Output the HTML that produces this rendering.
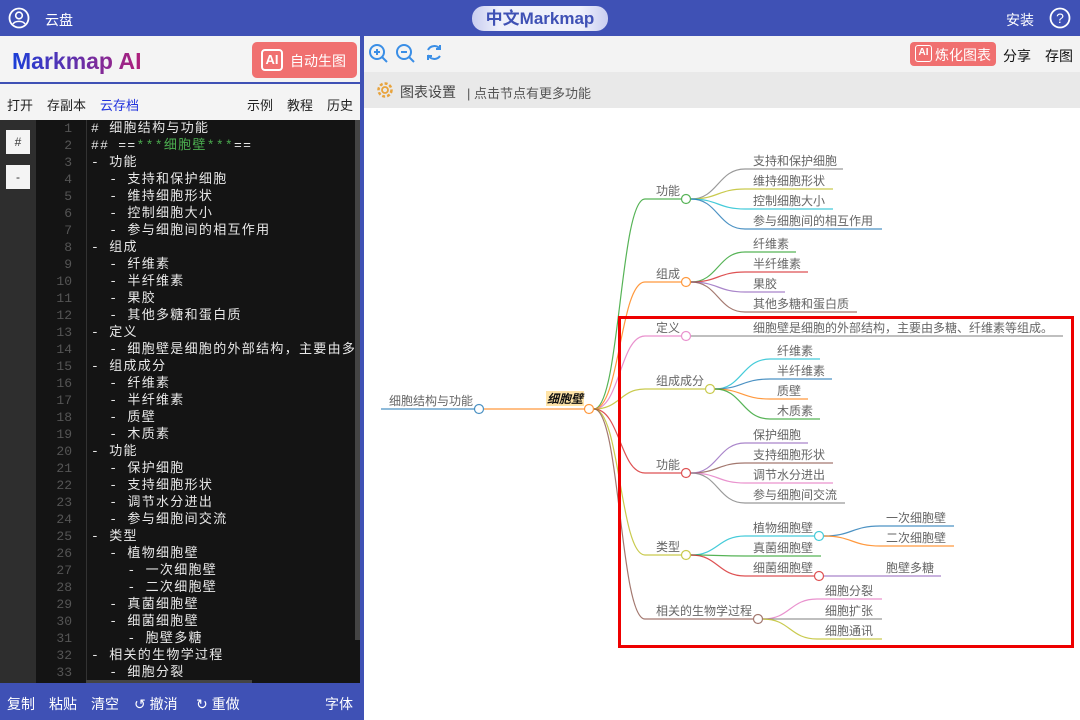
<!DOCTYPE html>
<html><head><meta charset="utf-8"><style>
*{margin:0;padding:0;box-sizing:border-box}
body{width:1080px;height:720px;overflow:hidden;font-family:"Liberation Sans","Noto Sans CJK SC",sans-serif;background:#fff;position:relative}
.abs{position:absolute}
.top{left:0;top:0;width:1080px;height:36px;background:#3f51b5;color:#fff;font-size:14px}
.pill{left:472px;top:6px;width:136px;height:25px;border-radius:12px;background:linear-gradient(90deg,#c8cdf0,#eef0fb 20%,#eef0fb 80%,#c8cdf0);color:#3f51b5;font-weight:bold;font-size:17px;text-align:center;line-height:25px}
.left{left:0;top:36px;width:360px;height:684px;background:#f4f4f4}
.blue{background:#3f51b5}
.menu span{position:absolute;top:95px;font-size:13px;color:#222}
.code{font-family:"Liberation Mono","Noto Sans CJK SC",monospace;font-size:13px;color:#e8e8e8;white-space:pre;line-height:17px;letter-spacing:1.3px}
.ln{font-family:"Liberation Mono",monospace;font-size:13px;color:#555;line-height:17px;text-align:right}
svg text{font-size:12px;fill:#666;font-family:"Liberation Sans","Noto Sans CJK SC",sans-serif}
</style></head><body>
<div class="abs top">
 <svg class="abs" style="left:8px;top:7px" width="22" height="22" viewBox="0 0 22 22"><circle cx="11" cy="11" r="9.5" fill="none" stroke="#fff" stroke-width="1.8"/><circle cx="11" cy="8.5" r="3.3" fill="none" stroke="#fff" stroke-width="1.6"/><path d="M5 17c2-3.5 10-3.5 12 0" fill="none" stroke="#fff" stroke-width="1.6"/></svg>
 <span class="abs" style="left:45px;top:10px">云盘</span>
 <span class="abs" style="left:1006px;top:10px">安装</span>
 <svg class="abs" style="left:1049px;top:7px" width="22" height="22" viewBox="0 0 22 22"><circle cx="11" cy="11" r="9.5" fill="none" stroke="#fff" stroke-width="1.8"/><text x="11" y="16" text-anchor="middle" style="fill:#fff;font-size:14px">?</text></svg>
</div>
<div class="abs pill">中文Markmap</div>
<div class="abs left"></div>
<div class="abs" style="left:12px;top:48px;font-size:23px;font-weight:bold;background:linear-gradient(90deg,#1a3fd8,#b0207a);-webkit-background-clip:text;background-clip:text;color:transparent">Markmap AI</div>
<div class="abs" style="left:252px;top:42px;width:105px;height:36px;background:#f07070;border-radius:5px;color:#fff;font-size:14px">
 <span class="abs" style="left:9px;top:7px;width:22px;height:22px;border:2px solid #fff;border-radius:4px;font-weight:bold;font-size:13px;line-height:18px;text-align:center">AI</span>
 <span class="abs" style="left:38px;top:9px">自动生图</span></div>
<div class="abs" style="left:0;top:82px;width:360px;height:2px;background:#3f51b5"></div>
<div class="menu"><span style="left:7px">打开</span><span style="left:47px">存副本</span><span style="left:100px;color:#2233dd">云存档</span><span style="left:247px">示例</span><span style="left:287px">教程</span><span style="left:327px">历史</span></div>
<div class="abs" style="left:0;top:120px;width:36px;height:563px;background:#2e2e2e"></div>
<div class="abs" style="left:6px;top:130px;width:24px;height:24px;background:#f4f4f4;font-size:12px;text-align:center;line-height:24px;color:#333">#</div>
<div class="abs" style="left:6px;top:165px;width:24px;height:24px;background:#f4f4f4;font-size:12px;text-align:center;line-height:24px;color:#333">-</div>
<div class="abs" style="left:36px;top:120px;width:324px;height:563px;background:#141414"></div>
<div class="abs" style="left:86px;top:120px;width:1px;height:563px;background:#333"></div>
<div class="abs" style="left:355px;top:120px;width:5px;height:520px;background:#444"></div>
<div class="abs ln" style="left:36px;top:120px;width:36px">1<br>2<br>3<br>4<br>5<br>6<br>7<br>8<br>9<br>10<br>11<br>12<br>13<br>14<br>15<br>16<br>17<br>18<br>19<br>20<br>21<br>22<br>23<br>24<br>25<br>26<br>27<br>28<br>29<br>30<br>31<br>32<br>33</div>
<div class="abs code" style="left:91px;top:120px;width:264px;height:563px;overflow:hidden"># 细胞结构与功能
## ==<span style="color:#4caf50">***细胞壁***</span>==
- 功能
  - 支持和保护细胞
  - 维持细胞形状
  - 控制细胞大小
  - 参与细胞间的相互作用
- 组成
  - 纤维素
  - 半纤维素
  - 果胶
  - 其他多糖和蛋白质
- 定义
  - 细胞壁是细胞的外部结构，主要由多糖、纤维素等组成。
- 组成成分
  - 纤维素
  - 半纤维素
  - 质壁
  - 木质素
- 功能
  - 保护细胞
  - 支持细胞形状
  - 调节水分进出
  - 参与细胞间交流
- 类型
  - 植物细胞壁
    - 一次细胞壁
    - 二次细胞壁
  - 真菌细胞壁
  - 细菌细胞壁
    - 胞壁多糖
- 相关的生物学过程
  - 细胞分裂</div>
<div class="abs" style="left:86px;top:680px;width:166px;height:3px;background:#444"></div>
<div class="abs blue" style="left:0;top:683px;width:360px;height:37px;color:#fff;font-size:14px">
 <span class="abs" style="left:7px;top:11px">复制</span><span class="abs" style="left:49px;top:11px">粘贴</span><span class="abs" style="left:91px;top:11px">清空</span><span class="abs" style="left:134px;top:11px">↺ 撤消</span><span class="abs" style="left:196px;top:11px">↻ 重做</span><span class="abs" style="left:325px;top:11px">字体</span></div>
<div class="abs blue" style="left:360px;top:36px;width:4px;height:684px"></div>
<div class="abs" style="left:364px;top:36px;width:716px;height:36px;background:#f3f3f3"></div>
<svg class="abs" style="left:368px;top:43px" width="80" height="22" viewBox="0 0 80 22" fill="none" stroke="#3a8ee6" stroke-width="2"><circle cx="9" cy="9" r="7"/><path d="M14 14l5 5M6 9h6M9 6v6"/><circle cx="36" cy="9" r="7"/><path d="M41 14l5 5M33 9h6"/><path d="M72 6a7 7 0 0 0-12 1M60 12a7 7 0 0 0 12 1"/><path d="M72 2v4h-4M60 17v-4h4"/></svg>
<div class="abs" style="left:910px;top:42px;width:86px;height:24px;background:#f07070;border-radius:4px;color:#fff;font-size:14px"><span class="abs" style="left:5px;top:3px;width:17px;height:17px;border:1.5px solid #fff;border-radius:3px;font-size:10px;font-weight:bold;line-height:14px;text-align:center">AI</span><span class="abs" style="left:25px;top:3px">炼化图表</span></div>
<span class="abs" style="left:1003px;top:46px;font-size:14px;color:#111">分享</span>
<span class="abs" style="left:1045px;top:46px;font-size:14px;color:#111">存图</span>
<div class="abs" style="left:364px;top:72px;width:716px;height:36px;background:#e9e9e9"></div>
<svg class="abs" style="left:376px;top:81px" width="18" height="18" viewBox="0 0 18 18"><circle cx="9" cy="9" r="6.5" fill="none" stroke="#e8a33c" stroke-width="2.5" stroke-dasharray="3 2"/><circle cx="9" cy="9" r="3" fill="none" stroke="#e8a33c" stroke-width="1.8"/></svg>
<span class="abs" style="left:400px;top:82px;font-size:14px;color:#444">图表设置</span>
<span class="abs" style="left:467px;top:83px;font-size:13px;color:#555">| 点击节点有更多功能</span>

<svg class="abs" style="left:0;top:0" width="1080" height="720" fill="none" stroke-width="1.2">
<g stroke-opacity="0.8">
<path d="M381 409H475" stroke="#1f77b4"/><circle cx="479" cy="409" r="4.5" stroke="#1f77b4" fill="#fff"/>
<path d="M484 409H585" stroke="#ff7f0e"/><circle cx="589" cy="409" r="4.5" stroke="#ff7f0e" fill="#fff"/>
<rect x="546" y="391" width="38" height="15" fill="#ffe4a8" stroke="none"/>
<text x="547" y="403" style="font-weight:bold;font-style:italic;fill:#111">细胞壁</text>
<text x="389" y="405">细胞结构与功能</text>

<path d="M594 409C620 409 620 199 645 199H681" stroke="#2ca02c"/>
<path d="M594 409C620 409 620 282 645 282H681" stroke="#ff7f0e"/>
<path d="M594 409C620 409 620 336 645 336H681" stroke="#e377c2"/>
<path d="M594 409C620 409 620 389 645 389H705" stroke="#bcbd22"/>
<path d="M594 409C620 409 620 473 645 473H681" stroke="#d62728"/>
<path d="M594 409C620 409 620 555 645 555H681" stroke="#bcbd22"/>
<path d="M594 409C620 409 620 619 645 619H753" stroke="#8c564b"/>
<text x="656" y="195">功能</text><text x="656" y="278">组成</text><text x="656" y="332">定义</text><text x="656" y="385">组成成分</text><text x="656" y="469">功能</text><text x="656" y="551">类型</text><text x="656" y="615">相关的生物学过程</text>

<path d="M691 199C718 199 718 169 745 169H843" stroke="#7f7f7f"/>
<path d="M691 199C718 199 718 189 745 189H833" stroke="#bcbd22"/>
<path d="M691 199C718 199 718 209 745 209H833" stroke="#17becf"/>
<path d="M691 199C718 199 718 229 745 229H882" stroke="#1f77b4"/>
<text x="753" y="165">支持和保护细胞</text><text x="753" y="185">维持细胞形状</text><text x="753" y="205">控制细胞大小</text><text x="753" y="225">参与细胞间的相互作用</text>

<path d="M691 282C718 282 718 252 745 252H796" stroke="#2ca02c"/>
<path d="M691 282C718 282 718 272 745 272H808" stroke="#d62728"/>
<path d="M691 282C718 282 718 292 745 292H785" stroke="#9467bd"/>
<path d="M691 282C718 282 718 312 745 312H857" stroke="#8c564b"/>
<text x="753" y="248">纤维素</text><text x="753" y="268">半纤维素</text><text x="753" y="288">果胶</text><text x="753" y="308">其他多糖和蛋白质</text>

<path d="M691 336H1063" stroke="#7f7f7f"/>
<text x="753" y="332">细胞壁是细胞的外部结构，主要由多糖、纤维素等组成。</text>

<path d="M715 389C742 389 742 359 770 359H820" stroke="#17becf"/>
<path d="M715 389C742 389 742 379 770 379H832" stroke="#1f77b4"/>
<path d="M715 389C742 389 742 399 770 399H808" stroke="#ff7f0e"/>
<path d="M715 389C742 389 742 419 770 419H820" stroke="#2ca02c"/>
<text x="777" y="355">纤维素</text><text x="777" y="375">半纤维素</text><text x="777" y="395">质壁</text><text x="777" y="415">木质素</text>

<path d="M691 473C718 473 718 443 745 443H808" stroke="#9467bd"/>
<path d="M691 473C718 473 718 463 745 463H833" stroke="#8c564b"/>
<path d="M691 473C718 473 718 483 745 483H833" stroke="#e377c2"/>
<path d="M691 473C718 473 718 503 745 503H845" stroke="#7f7f7f"/>
<text x="753" y="439">保护细胞</text><text x="753" y="459">支持细胞形状</text><text x="753" y="479">调节水分进出</text><text x="753" y="499">参与细胞间交流</text>

<path d="M691 555C718 555 718 536 745 536H814" stroke="#17becf"/>
<path d="M691 555C718 555 718 556 745 556H821" stroke="#2ca02c"/>
<path d="M691 555C718 555 718 576 745 576H814" stroke="#d62728"/>
<text x="753" y="532">植物细胞壁</text><text x="753" y="552">真菌细胞壁</text><text x="753" y="572">细菌细胞壁</text>
<path d="M824 536C852 536 852 526 880 526H954" stroke="#1f77b4"/>
<path d="M824 536C852 536 852 546 880 546H954" stroke="#ff7f0e"/>
<path d="M824 576H941" stroke="#9467bd"/>
<text x="886" y="522">一次细胞壁</text><text x="886" y="542">二次细胞壁</text><text x="886" y="572">胞壁多糖</text>

<path d="M763 619C790 619 790 599 817 599H882" stroke="#e377c2"/>
<path d="M763 619H882" stroke="#7f7f7f"/>
<path d="M763 619C790 619 790 639 817 639H882" stroke="#bcbd22"/>
<text x="825" y="595">细胞分裂</text><text x="825" y="615">细胞扩张</text><text x="825" y="635">细胞通讯</text>

<g fill="#fff">
<circle cx="686" cy="199" r="4.5" stroke="#2ca02c"/><circle cx="686" cy="282" r="4.5" stroke="#ff7f0e"/><circle cx="686" cy="336" r="4.5" stroke="#e377c2"/><circle cx="710" cy="389" r="4.5" stroke="#bcbd22"/><circle cx="686" cy="473" r="4.5" stroke="#d62728"/><circle cx="686" cy="555" r="4.5" stroke="#bcbd22"/><circle cx="758" cy="619" r="4.5" stroke="#8c564b"/><circle cx="819" cy="536" r="4.5" stroke="#17becf"/><circle cx="819" cy="576" r="4.5" stroke="#d62728"/>
</g>
</g>
<rect x="619.5" y="317.5" width="453" height="329" stroke="#ee0000" stroke-width="3"/>
</svg>
</body></html>
